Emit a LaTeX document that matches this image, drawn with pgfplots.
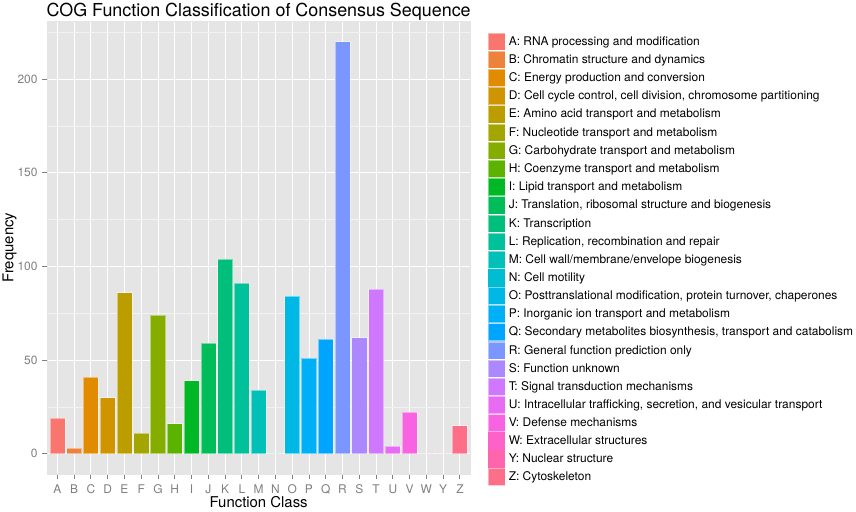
\documentclass[border=0pt]{standalone}
\usepackage{fontspec}
\setmainfont{TeX Gyre Heros}
\usepackage{pgfplots}
\pgfplotsset{compat=1.18}
\definecolor{ggbg}{HTML}{E5E5E5}
\definecolor{ggminor}{HTML}{F2F2F2}
\definecolor{gg50}{HTML}{7F7F7F}
\definecolor{cA}{HTML}{F8766D}
\definecolor{cB}{HTML}{EC823C}
\definecolor{cC}{HTML}{E08B00}
\definecolor{cD}{HTML}{CF9400}
\definecolor{cE}{HTML}{BB9D00}
\definecolor{cF}{HTML}{A3A500}
\definecolor{cG}{HTML}{85AD00}
\definecolor{cH}{HTML}{5BB300}
\definecolor{cI}{HTML}{00B826}
\definecolor{cJ}{HTML}{00BC59}
\definecolor{cK}{HTML}{00BF7D}
\definecolor{cL}{HTML}{00C19A}
\definecolor{cM}{HTML}{00C0B8}
\definecolor{cN}{HTML}{00BDD2}
\definecolor{cO}{HTML}{00B8E5}
\definecolor{cP}{HTML}{00B0F6}
\definecolor{cQ}{HTML}{00A5FF}
\definecolor{cR}{HTML}{7B97FF}
\definecolor{cS}{HTML}{AC88FF}
\definecolor{cT}{HTML}{CF78FF}
\definecolor{cU}{HTML}{E76BF3}
\definecolor{cV}{HTML}{F763E0}
\definecolor{cW}{HTML}{FD62C9}
\definecolor{cY}{HTML}{FF65AC}
\definecolor{cZ}{HTML}{FD6F89}
\pgfplotsset{
  gbar/.style={ybar, bar width=0.9, bar shift=0pt, fill=#1, draw=white, draw opacity=0.45, line width=0.5pt,
    legend image code/.code={\path (0pt,-8.85pt) rectangle (17.7pt,8.85pt);
      \fill[fill=#1] (0.3pt,-8.55pt) rectangle (17.4pt,8.55pt);}},
}
\begin{document}
\begin{tikzpicture}
\begin{axis}[
  scale only axis, width=422.7pt, height=453.3pt,
  xmin=0.4, xmax=25.6, ymin=-11, ymax=231,
  axis background/.style={fill=ggbg},
  axis line style={draw=ggbg, line width=0.1pt},
  xtick={1,...,25},
  xticklabels={A,B,C,D,E,F,G,H,I,J,K,L,M,N,O,P,Q,R,S,T,U,V,W,Y,Z},
  ytick={0,50,100,150,200},
  minor ytick={25,75,125,175,225},
  xmajorgrids, ymajorgrids, yminorgrids,
  major grid style={draw=white, line width=0.9pt},
  minor grid style={draw=ggminor, line width=0.45pt},
  tick align=outside, major tick length=5pt, minor tick length=0pt,
  xtick pos=bottom, ytick pos=left,
  major tick style={draw=gg50, line width=0.9pt},
  /pgf/number format/assume math mode=true,
  ticklabel style={font=\fontsize{11.95}{14}\selectfont, text=gg50},
  yticklabel style={inner sep=0pt, anchor=east, xshift=-4.6pt},
  xticklabel style={inner sep=0pt, anchor=north, yshift=-5pt},
  title={COG Function Classification of Consensus Sequence},
  every axis title/.style={at={(axis description cs:0.5,1)}, anchor=base, yshift=4pt, inner sep=0pt, font=\fontsize{17.9}{21}\selectfont},
  xlabel={Function Class},
  every axis x label/.style={at={(axis description cs:0.5,0)}, anchor=base, yshift=-33pt, inner sep=0pt, font=\fontsize{14.9}{17}\selectfont},
  ylabel={Frequency},
  every axis y label/.style={at={(axis description cs:-0.0804,0.5)}, anchor=base, rotate=90, inner sep=0pt, font=\fontsize{14.9}{17}\selectfont},
  legend style={at={(axis description cs:1,1)}, anchor=north west, xshift=17.3pt, yshift=-11.3pt,
    draw=none, fill=none, inner sep=0pt, outer sep=0pt, row sep=0pt, column sep=3.3pt,
    nodes={inner sep=0pt, minimum height=17.7pt, font=\fontsize{11.95}{14}\selectfont}},
  legend cell align=left,
]
\addplot[gbar=cA] coordinates {(1,19)};  \addlegendentry{A: RNA processing and modification}
\addplot[gbar=cB] coordinates {(2,3)};   \addlegendentry{B: Chromatin structure and dynamics}
\addplot[gbar=cC] coordinates {(3,41)};  \addlegendentry{C: Energy production and conversion}
\addplot[gbar=cD] coordinates {(4,30)};  \addlegendentry{D: Cell cycle control, cell division, chromosome partitioning}
\addplot[gbar=cE] coordinates {(5,86)};  \addlegendentry{E: Amino acid transport and metabolism}
\addplot[gbar=cF] coordinates {(6,11)};  \addlegendentry{F: Nucleotide transport and metabolism}
\addplot[gbar=cG] coordinates {(7,74)};  \addlegendentry{G: Carbohydrate transport and metabolism}
\addplot[gbar=cH] coordinates {(8,16)};  \addlegendentry{H: Coenzyme transport and metabolism}
\addplot[gbar=cI] coordinates {(9,39)};  \addlegendentry{I: Lipid transport and metabolism}
\addplot[gbar=cJ] coordinates {(10,59)}; \addlegendentry{J: Translation, ribosomal structure and biogenesis}
\addplot[gbar=cK] coordinates {(11,104)};\addlegendentry{K: Transcription}
\addplot[gbar=cL] coordinates {(12,91)}; \addlegendentry{L: Replication, recombination and repair}
\addplot[gbar=cM] coordinates {(13,34)}; \addlegendentry{M: Cell wall/membrane/envelope biogenesis}
\addplot[gbar=cN, draw=none] coordinates {(14,0)};  \addlegendentry{N: Cell motility}
\addplot[gbar=cO] coordinates {(15,84)}; \addlegendentry{O: Posttranslational modification, protein turnover, chaperones}
\addplot[gbar=cP] coordinates {(16,51)}; \addlegendentry{P: Inorganic ion transport and metabolism}
\addplot[gbar=cQ] coordinates {(17,61)}; \addlegendentry{Q: Secondary metabolites biosynthesis, transport and catabolism}
\addplot[gbar=cR] coordinates {(18,220)};\addlegendentry{R: General function prediction only}
\addplot[gbar=cS] coordinates {(19,62)}; \addlegendentry{S: Function unknown}
\addplot[gbar=cT] coordinates {(20,88)}; \addlegendentry{T: Signal transduction mechanisms}
\addplot[gbar=cU] coordinates {(21,4)};  \addlegendentry{U: Intracellular trafficking, secretion, and vesicular transport}
\addplot[gbar=cV] coordinates {(22,22)}; \addlegendentry{V: Defense mechanisms}
\addplot[gbar=cW, draw=none] coordinates {(23,0)};  \addlegendentry{W: Extracellular structures}
\addplot[gbar=cY, draw=none] coordinates {(24,0)};  \addlegendentry{Y: Nuclear structure}
\addplot[gbar=cZ] coordinates {(25,15)}; \addlegendentry{Z: Cytoskeleton}
\end{axis}
\pgfresetboundingbox
\useasboundingbox (-47.3pt,-36.7pt) rectangle (808.7pt,474.3pt);
\end{tikzpicture}
\end{document}
